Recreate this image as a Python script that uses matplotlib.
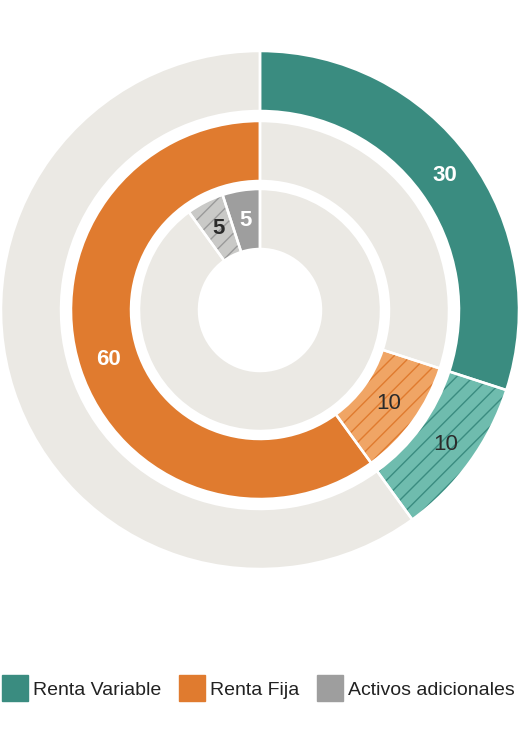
import matplotlib
matplotlib.use("Agg")
import numpy as np
import matplotlib.pyplot as plt
from matplotlib.lines import Line2D

plt.rcParams['font.family'] = ['Liberation Sans', 'DejaVu Sans']
plt.rcParams['hatch.linewidth'] = 1.0

# data
categories = ['Renta Variable', 'Renta Fija', 'Activos adicionales']
base = [30, 60, 5]
extra = [10, 10, 5]
colors = ['#3a8c80', '#e07b2f', '#9e9e9e']
light = ['#6fbcae', '#f0a565', '#c9c9c7']
bg = '#ebe9e4'

# ring values, clockwise from 12 o'clock
outer = [base[0], extra[0], 100 - base[0] - extra[0]]
middle = [100 - base[1] - extra[1], extra[1], base[1]]
inner = [100 - base[2] - extra[2], extra[2], base[2]]

rings = [
    # values, fills, hatch colours, hatches, radius, label colours
    (outer, [colors[0], light[0], bg], [colors[0], colors[0], bg], [None, '//', None], 259,
     ['white', '#2b2b2b', None]),
    (middle, [bg, light[1], colors[1]], [bg, colors[1], colors[1]], [None, '//', None], 189,
     [None, '#2b2b2b', 'white']),
    (inner, [bg, light[2], colors[2]], [bg, '#9a9a9a', colors[2]], [None, '//', None], 121,
     [None, '#2b2b2b', 'white']),
]
width = 60

fig = plt.figure(figsize=(5.19, 7.34), dpi=100)
ax = fig.add_axes([0, 0, 1, 1])
center = (260, 734 - 310)

for vals, fills, hcols, hatches, r, lcols in rings:
    wedges, _ = ax.pie(vals, colors=fills, hatch=hatches, radius=r, center=center,
                       startangle=90, counterclock=False, frame=True,
                       wedgeprops=dict(width=width, linewidth=0))
    for w, hc in zip(wedges, hcols):
        w.set_edgecolor(hc)
        w.set_linewidth(0)
    # white outlines
    ax.pie(vals, colors=fills, radius=r, center=center, startangle=90,
           counterclock=False, frame=True,
           wedgeprops=dict(width=width, fill=False, edgecolor='white', linewidth=1.8))
    # labels
    cum = np.cumsum([0] + vals)
    for i, lc in enumerate(lcols):
        if lc is None:
            continue
        mid = (cum[i] + cum[i + 1]) / 2 / 100 * 2 * np.pi
        rm = r - width / 2
        x = center[0] + rm * np.sin(mid)
        y = center[1] + rm * np.cos(mid)
        wt = 'bold' if (lc == 'white' or vals[i] == 5) else 'normal'
        ax.text(x, y, str(vals[i]), color=lc, fontsize=16, fontweight=wt,
                ha='center', va='center')

ax.set_xlim(0, 519)
ax.set_ylim(0, 734)
ax.set_aspect('equal')
ax.axis('off')

handles = [Line2D([], [], marker='s', linestyle='none', markersize=19,
                  markerfacecolor=c, markeredgecolor=c) for c in colors]
fig.legend(handles, categories, loc='center', bbox_to_anchor=(0.5, 1 - 690 / 734),
           ncol=3, frameon=False, fontsize=14, handletextpad=0.4,
           columnspacing=1.0, handlelength=1.1, labelcolor='#222222')

fig.savefig('out.png', dpi=100, facecolor='white')
